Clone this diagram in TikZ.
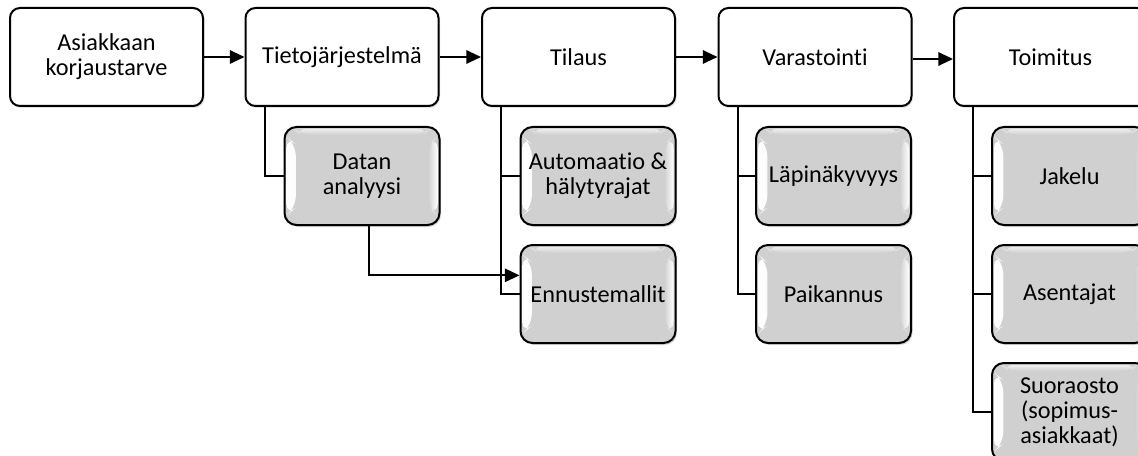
\documentclass[tikz,border=0pt]{standalone}
\usepackage{fontspec}
\setmainfont{Carlito}[Ligatures=NoCommon]
\usetikzlibrary{arrows.meta,shadows}
\definecolor{subfill}{RGB}{208,208,208}
\tikzset{
  stagebox/.style={draw=black, line width=1.5pt, fill=white, rounded corners=7.5pt,
    minimum width=144.75pt, minimum height=73.5pt, inner sep=0pt, align=center,
    font=\fontsize{18.2}{18.7}\selectfont,
    drop shadow={opacity=0.22, shadow xshift=1.2pt, shadow yshift=-1.5pt}},
  bevel/.style={path picture={
    \shade[left color=white, right color=subfill]
      ([shift={(1.5pt,-7pt)}]path picture bounding box.north west) --
      ([shift={(8.5pt,-13pt)}]path picture bounding box.north west) --
      ([shift={(8.5pt,13pt)}]path picture bounding box.south west) --
      ([shift={(1.5pt,7pt)}]path picture bounding box.south west) -- cycle;
    \shade[left color=subfill, right color=white]
      ([shift={(-8.5pt,-13pt)}]path picture bounding box.north east) --
      ([shift={(-1.5pt,-7pt)}]path picture bounding box.north east) --
      ([shift={(-1.5pt,7pt)}]path picture bounding box.south east) --
      ([shift={(-8.5pt,13pt)}]path picture bounding box.south east) -- cycle;
    \shade[top color=white!60!subfill, bottom color=subfill]
      ([shift={(7pt,-1.5pt)}]path picture bounding box.north west) --
      ([shift={(-7pt,-1.5pt)}]path picture bounding box.north east) --
      ([shift={(-12pt,-6pt)}]path picture bounding box.north east) --
      ([shift={(12pt,-6pt)}]path picture bounding box.north west) -- cycle;
  }},
  subbox/.style={stagebox, fill=subfill, minimum width=116.25pt, rounded corners=9pt, bevel,
    drop shadow={opacity=0.18, shadow xshift=1pt, shadow yshift=-1.2pt}},
  link/.style={line width=1.5pt, draw=black},
  flow/.style={link, -{Triangle[length=11pt,width=10pt]}},
  branchx/.style={xshift=15pt}
}
\begin{document}
\begin{tikzpicture}[x=0.75pt, y=-0.75pt]
  \useasboundingbox (0,0) rectangle (1138,456);
  \clip (0,0) rectangle (1138,456);

  % main process chain
  \node[stagebox] (tarve)    at (106.5,57) {Asiakkaan\\korjaustarve};
  \node[stagebox] (tieto)    at (342,57)   {Tietojärjestelmä};
  \node[stagebox] (tilaus)   at (578.5,57) {Tilaus};
  \node[stagebox] (varasto)  at (815,57)   {Varastointi};
  \node[stagebox] (toimitus) at (1050.5,57) {Toimitus};

  % sub-activities
  \node[subbox] (analyysi)  at (362,176)   {Datan\\analyysi};
  \node[subbox] (automaatio) at (598,176)  {Automaatio \&\\hälytyrajat};
  \node[subbox] (ennuste)   at (598,294)   {Ennustemallit};
  \node[subbox] (lapinak)   at (833.5,176) {Läpinäkyvyys};
  \node[subbox] (paikannus) at (833.5,294) {Paikannus};
  \node[subbox] (jakelu)    at (1069.5,176) {Jakelu};
  \node[subbox] (asentajat) at (1069.5,294) {Asentajat};
  \node[subbox] (suoraosto) at (1069.5,412) {Suoraosto\\(sopimus-\\asiakkaat)};

  % arrows between stages
  \draw[flow] (tarve.east) -- (tieto.west);
  \draw[flow] (tieto.east) -- (tilaus.west);
  \draw[flow] (tilaus.east) -- (varasto.west);
  \draw[flow] ([yshift=-1.5pt]varasto.east) -- ([yshift=-1.5pt]toimitus.west);

  % branch lines to sub-activities
  \draw[link] ([branchx]tieto.south west) |- (analyysi.west);

  \draw[link] ([branchx]tilaus.south west) |- (ennuste.west);
  \draw[link] (automaatio.west) -| ([branchx]tilaus.south west);

  \draw[link] ([branchx]varasto.south west) |- (paikannus.west);
  \draw[link] (lapinak.west) -| ([branchx]varasto.south west);

  \draw[link] ([branchx]toimitus.south west) |- (suoraosto.west);
  \draw[link] (jakelu.west) -| ([branchx]toimitus.south west);
  \draw[link] (asentajat.west) -| ([branchx]toimitus.south west);

  % data analysis feeds the forecasting models
  \draw[flow] ([xshift=5pt]analyysi.south) |- ([yshift=14pt]ennuste.west);
\end{tikzpicture}
\end{document}
